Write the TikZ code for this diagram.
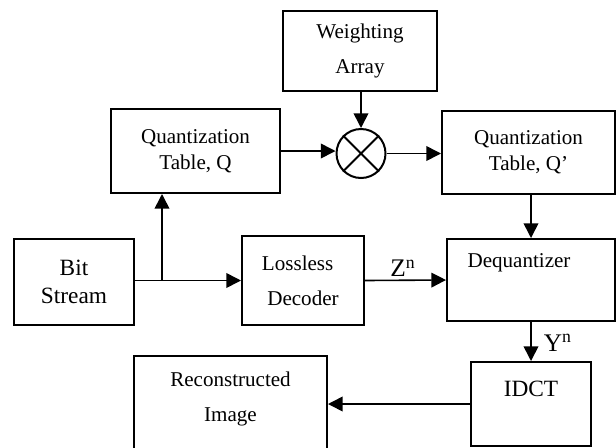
\documentclass[tikz,border=0pt]{standalone}
\usepackage{fontspec}
\setmainfont{Liberation Serif}
\usetikzlibrary{arrows.meta}

% shift a text inside its box without changing the box size
\newcommand{\nudge}[3]{\raisebox{#2}[\height][\depth]{\hspace*{-#1}#3\hspace*{#1}}}

\begin{document}
\begin{tikzpicture}[x=0.75pt, y=-0.75pt,
  blk/.style={draw, line width=1.5pt, align=center, inner sep=0pt, font=\fontsize{15.8}{26}\selectfont},
  tight/.style={font=\fontsize{15.8}{19.5}\selectfont},
  big/.style={font=\fontsize{17.5}{21}\selectfont},
  sig/.style={font=\fontsize{19}{21}\selectfont, inner sep=2pt},
  flow/.style={line width=1.2pt, -{Triangle[length=11pt,width=11pt]}}]
\useasboundingbox (0,0) rectangle (616,447);

\node[blk, minimum width=115.5pt, minimum height=60pt] (weight) at (360,51) {Weighting\\Array};
\node[blk, tight, minimum width=126.75pt, minimum height=63pt] (quantQ) at (195.5,151) {Quantization\\Table, Q};
\node[draw, circle, line width=1.5pt, minimum size=36.75pt, inner sep=0pt] (mult) at (361,153.5) {};
\node[blk, tight, minimum width=129.75pt, minimum height=62.25pt] (quantQp) at (528.5,152.5) {Quantization\\Table, Q'};
\node[blk, big, minimum width=90pt, minimum height=64.5pt] (bits) at (74,282) {Bit\\Stream};
\node[blk, minimum width=91.5pt, minimum height=66.75pt] (lossless) at (303,280.5) {\nudge{4pt}{0pt}{Lossless}\\Decoder};
\node[blk, minimum width=126pt, minimum height=61.5pt] (dequant) at (531,280) {\nudge{9pt}{13pt}{Dequantizer}};
\node[blk, big, minimum width=90pt, minimum height=63pt] (idct) at (531,404) {\nudge{0pt}{11pt}{IDCT}};
\node[blk, minimum width=144.75pt, minimum height=72pt] (recon) at (230.5,404) {\nudge{0pt}{4pt}{Reconstructed}\\\nudge{0pt}{4pt}{Image}};

% multiplier cross
\draw[line width=1.5pt] (mult.north west) -- (mult.south east)
  (mult.north east) -- (mult.south west);

\coordinate (split) at (162,280.5);

\draw[flow] (mult.north |- weight.south) -- (mult.north);
\draw[flow] (quantQ.east) -- (quantQ.east -| mult.west);
\draw[flow] (mult.east) -- (mult.east -| quantQp.west);
\draw[flow] (dequant.north |- quantQp.south) -- (dequant.north);
\draw[flow] (bits.east |- lossless.west) -- (lossless.west);
\draw[flow] (split) -- (split |- quantQ.south);
\draw[flow] (lossless.east) -- node[above, sig, xshift=-2pt] {Z\textsuperscript{n}} (dequant.west);
\draw[flow] (dequant.south) -- node[right, sig, xshift=7pt, yshift=-1pt] {Y\textsuperscript{n}} (idct.north);
\draw[flow] (idct.west |- recon.east) -- (recon.east);
\end{tikzpicture}
\end{document}
